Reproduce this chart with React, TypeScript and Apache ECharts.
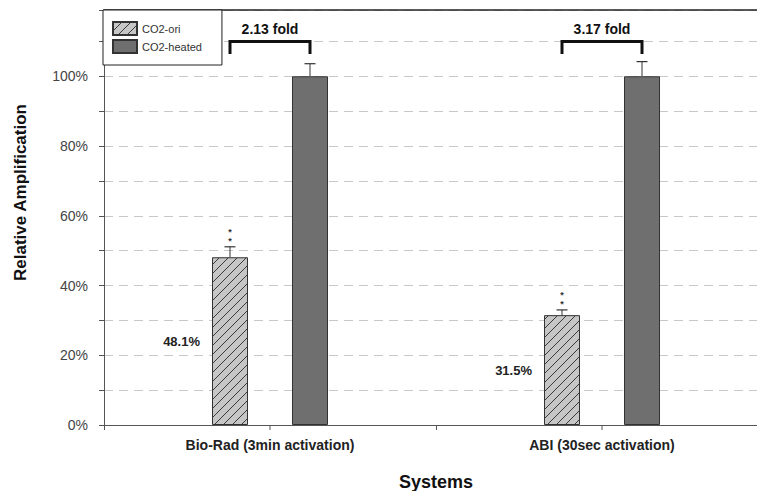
import React, { useEffect, useRef } from 'react';
import * as echarts from 'echarts';

const categories = ['Bio-Rad (3min activation)', 'ABI (30sec activation)'];
const seriesNames = ['CO2-ori', 'CO2-heated'];
const oriValues = [48.1, 31.5];
const oriErrors = [3.0, 1.5];
const heatedValues = [100, 100];
const heatedErrors = [3.6, 4.2];
const oriLabels = ['48.1%', '31.5%'];
const foldLabels = ['2.13 fold', '3.17 fold'];
const yLabelValues = [0, 20, 40, 60, 80, 100];

const FONT = '"Liberation Sans", Arial, sans-serif';
const BAR_W = 36;
const BAR_GAP = 44;
const HALF = (BAR_W + BAR_GAP) / 2;
const BRACKET_LEVEL = 110;
const BRACKET_LEG = 3.6;
const FOLD_TEXT_LEVEL = 113.5;

function makeHatch(): HTMLCanvasElement {
  const s = 9;
  const c = document.createElement('canvas');
  c.width = s;
  c.height = s;
  const ctx = c.getContext('2d')!;
  ctx.fillStyle = '#c6c6c6';
  ctx.fillRect(0, 0, s, s);
  ctx.strokeStyle = '#3a3a3a';
  ctx.lineWidth = 1;
  ctx.beginPath();
  ctx.moveTo(-1, s + 1);
  ctx.lineTo(s + 1, -1);
  ctx.moveTo(-1, 1);
  ctx.lineTo(1, -1);
  ctx.moveTo(s - 1, s + 1);
  ctx.lineTo(s + 1, s - 1);
  ctx.stroke();
  return c;
}

export default function App() {
  const ref = useRef<HTMLDivElement>(null);
  useEffect(() => {
    if (!ref.current) return;
    const chart = echarts.init(ref.current, undefined, { renderer: 'svg' });
    const hatch = makeHatch();

    const renderAnnotations = (params: any, api: any) => {
      const i = api.value(0);
      const cx = api.coord([i, 0])[0];
      const y0 = api.coord([i, 0])[1];
      const children: any[] = [];
      const errBar = (x: number, v: number, e: number, stars: boolean) => {
        const yb = api.coord([i, v])[1];
        const yt = api.coord([i, v + e])[1];
        children.push({
          type: 'line',
          shape: { x1: x, y1: yb, x2: x, y2: yt },
          style: { stroke: '#333', lineWidth: 1 },
        });
        children.push({
          type: 'line',
          shape: { x1: x - 5.5, y1: yt, x2: x + 5.5, y2: yt },
          style: { stroke: '#333', lineWidth: 1.2 },
        });
        if (stars) {
          [5.5, 14.5].forEach((d) => {
            children.push({
              type: 'text',
              x: x,
              y: yt - d,
              style: {
                text: '*',
                fill: '#333',
                font: `bold 9px ${FONT}`,
                align: 'center',
                verticalAlign: 'middle',
              },
            });
          });
        }
      };
      errBar(cx - HALF, oriValues[i], oriErrors[i], true);
      errBar(cx + HALF, heatedValues[i], heatedErrors[i], false);
      const yb = api.coord([i, BRACKET_LEVEL])[1];
      const yl = api.coord([i, BRACKET_LEVEL - BRACKET_LEG])[1];
      children.push({
        type: 'polyline',
        shape: {
          points: [
            [cx - HALF, yl],
            [cx - HALF, yb],
            [cx + HALF, yb],
            [cx + HALF, yl],
          ],
        },
        style: { stroke: '#111', lineWidth: 3, fill: 'none' },
      });
      const yt = api.coord([i, FOLD_TEXT_LEVEL])[1];
      children.push({
        type: 'text',
        x: cx,
        y: yt,
        style: {
          text: foldLabels[i],
          fill: '#111',
          font: `bold 14px ${FONT}`,
          align: 'center',
          verticalAlign: 'middle',
        },
      });
      children.push({
        type: 'line',
        shape: { x1: cx, y1: y0, x2: cx, y2: y0 + 5 },
        style: { stroke: '#555', lineWidth: 1 },
      });
      return { type: 'group', children };
    };

    chart.setOption({
      animation: false,
      backgroundColor: '#fff',
      textStyle: { fontFamily: FONT },
      grid: {
        left: 104,
        top: 10,
        right: -11,
        bottom: 66,
        containLabel: false,
        outerBoundsMode: 'none',
      },
      legend: {
        data: seriesNames,
        orient: 'vertical',
        left: 103,
        top: 10,
        backgroundColor: '#fff',
        borderColor: '#222',
        borderWidth: 1,
        borderRadius: 0,
        padding: [11, 20, 11, 9],
        itemGap: 3,
        itemWidth: 24,
        itemHeight: 13,
        icon: 'rect',
        textStyle: { fontSize: 11, color: '#333', fontFamily: FONT },
        z: 10,
      },
      xAxis: [
        {
          type: 'category',
          data: categories,
          position: 'bottom',
          axisLine: { show: true, lineStyle: { color: '#555', width: 1 } },
          axisTick: { show: true, length: 5, lineStyle: { color: '#555' } },
          axisLabel: {
            fontSize: 14,
            fontWeight: 'bold',
            color: '#222',
            margin: 13,
            interval: 0,
          },
          name: 'Systems',
          nameLocation: 'middle',
          nameGap: 48,
          nameTextStyle: { fontSize: 18, fontWeight: 'bold', color: '#111' },
        },
        {
          type: 'category',
          data: categories,
          position: 'top',
          axisLine: { show: true, onZero: false, lineStyle: { color: '#222', width: 1.5 } },
          axisTick: { show: false },
          axisLabel: { show: false },
          z: 5,
        },
      ],
      yAxis: {
        type: 'value',
        min: 0,
        max: 119,
        interval: 10,
        axisLine: { show: true, lineStyle: { color: '#555', width: 1 } },
        axisTick: { show: true, length: 5, lineStyle: { color: '#555' } },
        axisLabel: {
          fontSize: 14,
          color: '#444',
          margin: 16,
          formatter: (v: number) => (yLabelValues.includes(v) ? `${v}%` : ''),
        },
        splitLine: {
          show: true,
          lineStyle: { color: '#c8c8c8', type: [9, 6], width: 1 },
        },
        name: 'Relative Amplification',
        nameLocation: 'middle',
        nameGap: 75,
        nameRotate: 90,
        nameTextStyle: {
          fontSize: 17,
          fontWeight: 'bold',
          color: '#111',
          padding: [0, 0, 0, 50],
        },
      },
      series: [
        {
          name: seriesNames[0],
          type: 'bar',
          data: oriValues,
          barWidth: BAR_W,
          barGap: `${(BAR_GAP / BAR_W) * 100}%`,
          itemStyle: {
            color: { image: hatch, repeat: 'repeat' },
            borderColor: '#333',
            borderWidth: 1,
          },
          label: {
            show: true,
            position: 'left',
            distance: 12,
            formatter: (p: any) => oriLabels[p.dataIndex],
            fontSize: 13,
            fontWeight: 'bold',
            color: '#222',
          },
        },
        {
          name: seriesNames[1],
          type: 'bar',
          data: heatedValues,
          barWidth: BAR_W,
          itemStyle: { color: '#6f6f6f', borderColor: '#333', borderWidth: 1 },
        },
        {
          type: 'custom',
          name: 'annotations',
          data: categories.map((_, i) => [i, heatedValues[i]]),
          encode: { x: 0, y: 1 },
          renderItem: renderAnnotations,
          clip: false,
          z: 6,
        },
      ],
    });
    return () => chart.dispose();
  }, []);
  return (
    <div
      style={{
        position: 'fixed',
        left: 0,
        top: 0,
        width: 757,
        height: 491,
        overflow: 'hidden',
        background: '#fff',
      }}
    >
      <div ref={ref} style={{ width: 757, height: 491 }} />
    </div>
  );
}
